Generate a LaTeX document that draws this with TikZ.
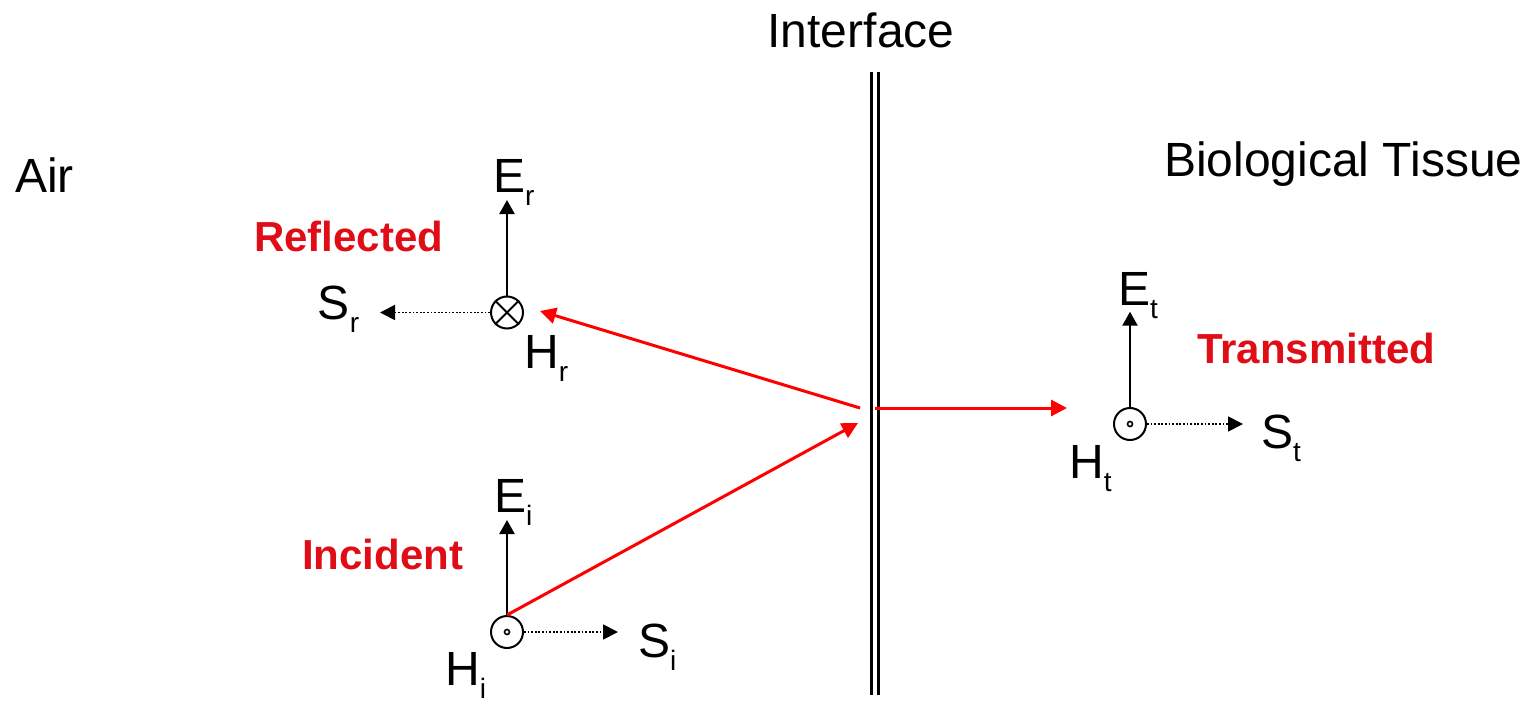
\documentclass[tikz,border=0pt]{standalone}
\usepackage{fontspec}
\setmainfont{Liberation Sans}
\usetikzlibrary{arrows.meta}

\definecolor{lblred}{RGB}{224,12,22}
\newcommand{\lowsub}[1]{\raisebox{-13pt}{\fontsize{28}{28}\selectfont #1}}

\tikzset{
  lbl/.style={font=\fontsize{48}{50}\selectfont, inner sep=0, anchor=base west},
  wavelbl/.style={font=\fontsize{42}{44}\selectfont\bfseries, text=lblred, inner sep=0, anchor=base west},
  field/.style={draw, circle, line width=2, minimum size=32, inner sep=0},
  efield/.style={-{Triangle[length=14,width=15]}, line width=2.2},
  poynt/.style={-{Triangle[length=15,width=15]}, line width=1.8, dash pattern=on 1.8 off 1.8},
  ray/.style={-{Triangle[length=16,width=16]}, red, line width=3},
}

\begin{document}
\begin{tikzpicture}[x=1pt,y=-1pt]
\useasboundingbox (0,0) rectangle (1532,701);

% media and interface
\node[lbl, anchor=base] (iface) at (861,48) {Interface};
\node[lbl] (air) at (15,192) {Air};
\node[lbl] (tissue) at (1164,176) {Biological Tissue};
\draw[line width=3.3] (871.5,72) -- (871.5,695);
\draw[line width=3.3] (878.5,72) -- (878.5,695);

% reflected wave
\node[field] (hr) at (507,312.5) {};
\draw[line width=2] (hr.north east) -- (hr.south west);
\draw[line width=2] (hr.north west) -- (hr.south east);
\coordinate (ertip) at (507,200);
\coordinate (srtip) at (380,312.5);
\draw[efield] (hr) -- (ertip);
\draw[poynt] (hr) -- (srtip);
\node[lbl] (er) at (493,192) {E\lowsub{r}};
\node[lbl] (sr) at (317.7,319) {S\lowsub{r}};
\node[lbl] (hrl) at (524,368) {H\lowsub{r}};
\node[wavelbl] (refl) at (254,251) {Reflected};

% incident wave
\node[field] (hi) at (507,632) {};
\draw[line width=1.6] (hi) circle (2.5);
\coordinate (eitip) at (507,520);
\coordinate (sitip) at (618,632);
\draw[efield] (hi) -- (eitip);
\draw[poynt] (hi) -- (sitip);
\node[lbl] (ei) at (494,512) {E\lowsub{i}};
\node[lbl] (si) at (638,657) {S\lowsub{i}};
\node[lbl] (hil) at (445,685) {H\lowsub{i}};
\node[wavelbl] (inc) at (302,569) {Incident};

% transmitted wave
\node[field] (ht) at (1130,424) {};
\draw[line width=1.6] (ht) circle (2.5);
\coordinate (ettip) at (1130,311.7);
\coordinate (sttip) at (1243,424);
\draw[efield] (ht) -- (ettip);
\draw[poynt] (ht) -- (sttip);
\node[lbl] (et) at (1118,305) {E\lowsub{t}};
\node[lbl] (st) at (1261,448) {S\lowsub{t}};
\node[lbl] (htl) at (1069,478) {H\lowsub{t}};
\node[wavelbl] (trans) at (1197,363) {Transmitted};

% rays at the interface
\coordinate (hitpt) at (858,423);
\coordinate (bounce) at (860,408);
\coordinate (rtip) at (540,311);
\coordinate (tstart) at (875,408);
\coordinate (ttip) at (1067,408);
\draw[ray] (hi.north) -- (hitpt);
\draw[ray] (bounce) -- (rtip);
\draw[ray] (tstart) -- (ttip);
\end{tikzpicture}
\end{document}
